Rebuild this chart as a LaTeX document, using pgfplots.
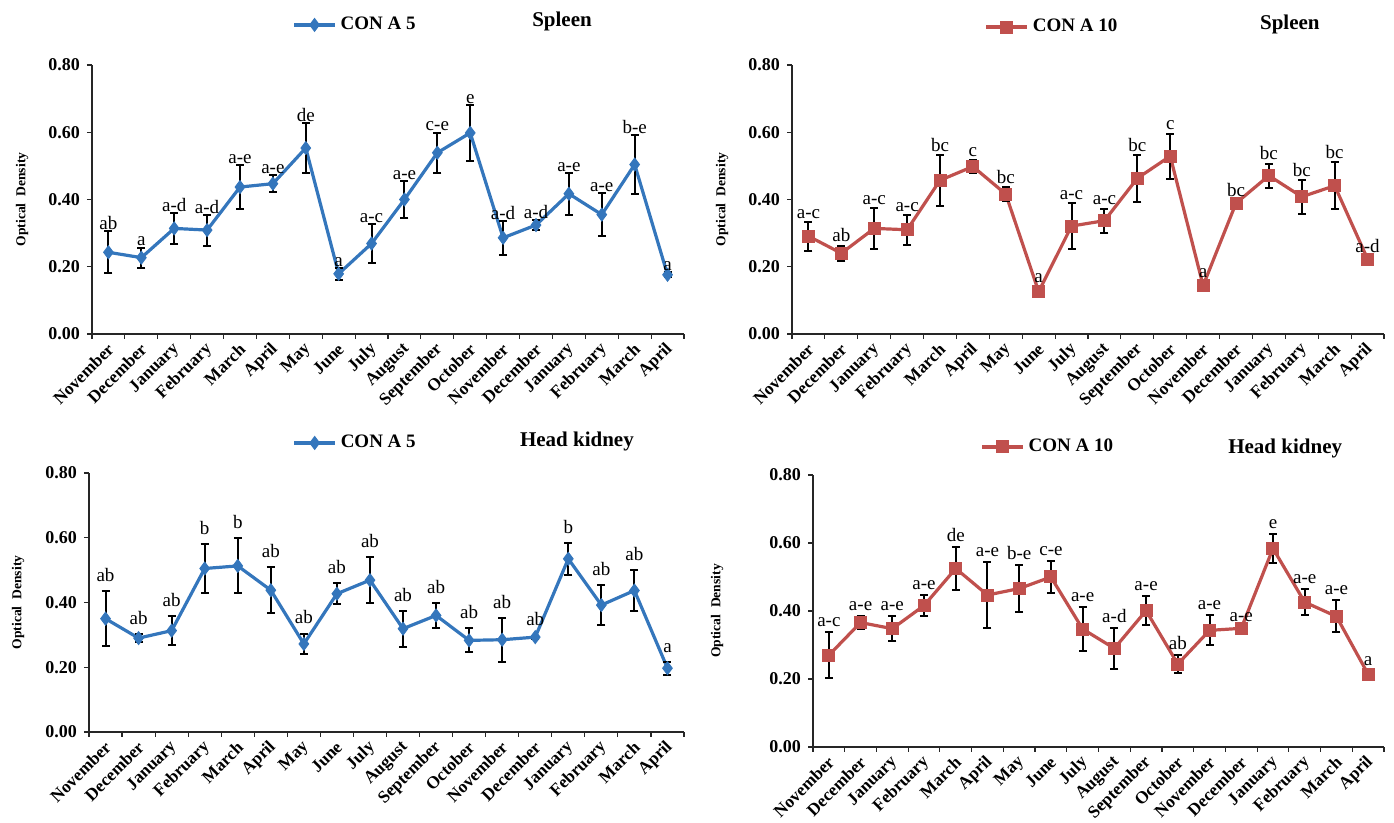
\documentclass[border=0pt]{standalone}
\usepackage{pgfplots}
\pgfplotsset{compat=1.18}
\usepackage{pgfplotstable}
\usepackage{fontspec}
\setmainfont{Liberation Serif}
\definecolor{cblue}{RGB}{52,118,188}
\definecolor{cred}{RGB}{192,80,77}

\pgfplotstableread{
x y e l
0 0.243 0.062 ab
1 0.227 0.030 a
2 0.314 0.045 a-d
3 0.309 0.046 a-d
4 0.437 0.066 a-e
5 0.447 0.025 a-e
6 0.553 0.073 de
7 0.179 0.017 a
8 0.269 0.059 a-c
9 0.400 0.054 a-e
10 0.539 0.060 c-e
11 0.598 0.084 e
12 0.286 0.050 a-d
13 0.324 0.015 a-d
14 0.417 0.062 a-e
15 0.355 0.065 a-e
16 0.504 0.089 b-e
17 0.176 0.008 a
}\spleenA

\pgfplotstableread{
x y e l
0 0.291 0.043 a-c
1 0.240 0.023 ab
2 0.314 0.060 a-c
3 0.310 0.044 a-c
4 0.457 0.075 bc
5 0.498 0.020 c
6 0.416 0.020 bc
7 0.126 0.015 a
8 0.321 0.068 a-c
9 0.337 0.036 a-c
10 0.463 0.070 bc
11 0.529 0.067 c
12 0.144 0.012 a
13 0.389 0.010 bc
14 0.471 0.036 bc
15 0.408 0.050 bc
16 0.441 0.070 bc
17 0.223 0.010 a-d
}\spleenB

\pgfplotstableread{
x y e l
0 0.350 0.085 ab
1 0.290 0.013 ab
2 0.313 0.044 ab
3 0.505 0.076 b
4 0.513 0.085 b
5 0.438 0.071 ab
6 0.272 0.032 ab
7 0.427 0.032 ab
8 0.469 0.072 ab
9 0.319 0.055 ab
10 0.360 0.039 ab
11 0.283 0.037 ab
12 0.285 0.068 ab
13 0.293 0.005 ab
14 0.535 0.050 b
15 0.392 0.061 ab
16 0.437 0.063 ab
17 0.197 0.020 a
}\kidneyA

\pgfplotstableread{
x y e l
0 0.270 0.068 a-c
1 0.366 0.018 a-e
2 0.348 0.036 a-e
3 0.416 0.031 a-e
4 0.525 0.064 de
5 0.447 0.098 a-e
6 0.466 0.070 b-e
7 0.500 0.048 c-e
8 0.347 0.064 a-e
9 0.290 0.060 a-d
10 0.401 0.043 a-e
11 0.244 0.026 ab
12 0.343 0.044 a-e
13 0.349 0.005 a-e
14 0.584 0.043 e
15 0.426 0.038 a-e
16 0.384 0.047 a-e
17 0.214 0.010 a
}\kidneyB

\pgfplotsset{
 odstyle/.style={
  scale only axis,
  axis lines*=left,
  xmin=-0.5, xmax=17.5, ymin=0, ymax=0.8,
  xtick={-0.5,0.5,...,17.5},
  x tick label as interval,
  xticklabels={November,December,January,February,March,April,May,June,July,August,September,October,November,December,January,February,March,April},
  ytick={0,0.2,0.4,0.6,0.8},
  tick align=outside,
  major tick length=2.5pt,
  axis line style={line width=0.7pt, black!85},
  tick style={line width=0.6pt, black!85},
  yticklabel style={font=\fontsize{9}{10}\selectfont\bfseries, /pgf/number format/.cd, fixed, fixed zerofill, precision=2, assume math mode=true},
  xticklabel style={font=\fontsize{8.7}{10}\selectfont\bfseries, xshift=2pt, yshift=-3pt, rotate=45, anchor=east, inner sep=1pt},
  ylabel={Optical\ \ Density},
  ylabel style={font=\fontsize{6.8}{7}\selectfont\bfseries, anchor=center},
  every axis title shift=0pt,
  title style={font=\fontsize{10.5}{12}\selectfont\bfseries, anchor=center},
  legend style={draw=none, fill=none, font=\fontsize{9.5}{10}\selectfont\bfseries, anchor=center, inner sep=0pt},
  legend image code/.code={\draw[mark repeat=2,mark phase=2] plot coordinates {(0cm,0cm) (0.36cm,0cm) (0.72cm,0cm)};},
  clip=false,
 },
 eb/.style={error bars/.cd, y dir=both, y explicit,
   error bar style={black, line width=1pt},
   error mark options={black, rotate=90, mark size=2pt, line width=1pt}},
 lbl/.style={draw=none, mark=none, forget plot, nodes near coords, point meta=explicit symbolic,
   nodes near coords style={font=\fontsize{9.5}{10}\selectfont, anchor=south, inner sep=0.5pt, text=black, yshift=#1}},
 serA/.style={cblue, line width=1.6pt, mark=diamond*, mark size=3.2pt, mark options={solid, fill=cblue, draw=cblue, line width=0.5pt}},
 serB/.style={cred, line width=1.6pt, mark=square*, mark size=3pt, mark options={solid, fill=cred, draw=cred, line width=0.5pt}},
}

\begin{document}
\begin{tikzpicture}
\useasboundingbox (0,0) rectangle (697pt,411.5pt);

% top left
\begin{axis}[odstyle, at={(46pt,244.5pt)}, anchor=south west, width=296pt, height=134.5pt,
  ylabel style={at={(axis description cs:-0.118,0.5)}},
  title={Spleen}, title style={at={(axis description cs:0.794,1.16)}},
  legend style={at={(axis description cs:0.446,1.149)}}]
\addplot[serA, eb] table[x=x, y=y, y error=e]{\spleenA};
\addlegendentry{CON A 5}
\addplot[lbl=0pt] table[x=x, y expr=\thisrow{y}+\thisrow{e}, meta=l]{\spleenA};
\end{axis}

% top right
\begin{axis}[odstyle, at={(396pt,244.5pt)}, anchor=south west, width=296pt, height=134.5pt,
  ylabel style={at={(axis description cs:-0.118,0.5)}},
  title={Spleen}, title style={at={(axis description cs:0.841,1.149)}},
  legend style={at={(axis description cs:0.441,1.141)}}]
\addplot[serB, eb] table[x=x, y=y, y error=e]{\spleenB};
\addlegendentry{CON A 10}
\addplot[lbl=1pt] table[x=x, y expr=\thisrow{y}+\thisrow{e}, meta=l]{\spleenB};
\end{axis}

% bottom left
\begin{axis}[odstyle, at={(44.5pt,45.5pt)}, anchor=south west, width=297.5pt, height=129.5pt,
  ylabel style={at={(axis description cs:-0.119,0.5)}},
  title={Head kidney}, title style={at={(axis description cs:0.82,1.12)}},
  legend style={at={(axis description cs:0.449,1.116)}}]
\addplot[serA, eb] table[x=x, y=y, y error=e]{\kidneyA};
\addlegendentry{CON A 5}
\addplot[lbl=4pt] table[x=x, y expr=\thisrow{y}+\thisrow{e}, meta=l]{\kidneyA};
\end{axis}

% bottom right
\begin{axis}[odstyle, at={(406.5pt,38pt)}, anchor=south west, width=285.5pt, height=136pt,
  ylabel style={at={(axis description cs:-0.168,0.5)}},
  title={Head kidney}, title style={at={(axis description cs:0.827,1.099)}},
  legend style={at={(axis description cs:0.413,1.103)}}]
\addplot[serB, eb] table[x=x, y=y, y error=e]{\kidneyB};
\addlegendentry{CON A 10}
\addplot[lbl=2pt] table[x=x, y expr=\thisrow{y}+\thisrow{e}, meta=l]{\kidneyB};
\end{axis}
\end{tikzpicture}
\end{document}
